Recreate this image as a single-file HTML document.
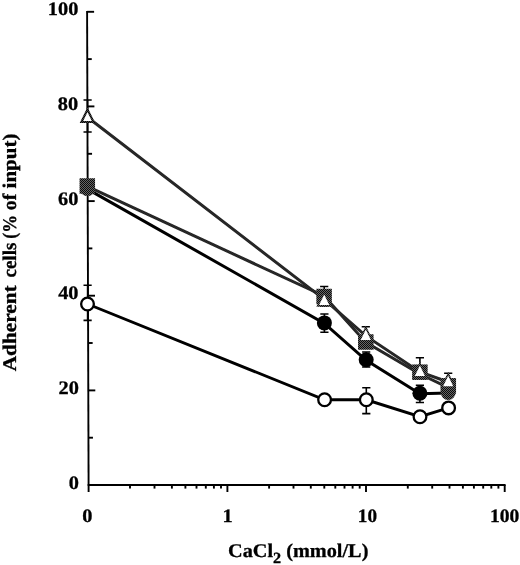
<!DOCTYPE html>
<html><head><meta charset="utf-8"><title>Figure</title>
<style>
html,body{margin:0;padding:0;background:#fff;}
svg{display:block;}
text{font-family:"Liberation Serif","Times New Roman",serif;font-weight:bold;fill:#000;stroke:#000;stroke-width:0.3px;text-rendering:geometricPrecision;}
</style></head><body>
<svg width="520" height="565" viewBox="0 0 520 565">
<defs>
<pattern id="dz" width="2" height="2" patternUnits="userSpaceOnUse">
<rect width="2" height="2" fill="#666666"/>
<rect x="0" y="0" width="1" height="1" fill="#0a0a0a"/>
<rect x="1" y="1" width="1" height="1" fill="#0a0a0a"/>
</pattern>
<pattern id="dl" width="2" height="2" patternUnits="userSpaceOnUse">
<rect width="2" height="2" fill="#484848"/>
<rect x="0" y="0" width="1" height="1" fill="#050505"/>
<rect x="1" y="1" width="1" height="1" fill="#050505"/>
</pattern>
</defs>
<rect width="520" height="565" fill="#fff"/>

<g stroke="#000" stroke-width="1.9" fill="none" stroke-linecap="butt">
<path d="M87.10 10.9 L88.60 485.0"/>
<path d="M87.65 485.0 H505.6"/>
<path d="M88.45 437.7 h4.5"/>
<path d="M88.30 390.4 h7"/>
<path d="M88.15 343.0 h4.5"/>
<path d="M88.00 295.7 h7"/>
<path d="M87.85 248.4 h4.5"/>
<path d="M87.70 201.1 h7"/>
<path d="M87.55 153.8 h4.5"/>
<path d="M87.40 106.4 h7"/>
<path d="M87.25 59.1 h4.5"/>
<path d="M87.10 11.8 h7"/>
<path d="M88.6 485.0 v7"/>
<path d="M130.0 485.0 v3.6"/>
<path d="M154.5 485.0 v3.6"/>
<path d="M171.9 485.0 v3.6"/>
<path d="M185.4 485.0 v3.6"/>
<path d="M196.5 485.0 v3.6"/>
<path d="M205.8 485.0 v3.6"/>
<path d="M213.9 485.0 v3.6"/>
<path d="M221.0 485.0 v3.6"/>
<path d="M227.4 485.0 v7"/>
<path d="M269.1 485.0 v3.6"/>
<path d="M293.5 485.0 v3.6"/>
<path d="M310.8 485.0 v3.6"/>
<path d="M324.3 485.0 v3.6"/>
<path d="M335.3 485.0 v3.6"/>
<path d="M344.5 485.0 v3.6"/>
<path d="M352.6 485.0 v3.6"/>
<path d="M359.7 485.0 v3.6"/>
<path d="M366.0 485.0 v7"/>
<path d="M407.8 485.0 v3.6"/>
<path d="M432.2 485.0 v3.6"/>
<path d="M449.5 485.0 v3.6"/>
<path d="M462.9 485.0 v3.6"/>
<path d="M473.9 485.0 v3.6"/>
<path d="M483.2 485.0 v3.6"/>
<path d="M491.3 485.0 v3.6"/>
<path d="M498.4 485.0 v3.6"/>
<path d="M504.7 485.0 v7"/>
</g>
<text transform="translate(79.0 488.6) scale(1.07 1)" font-size="19" text-anchor="end">0</text>
<text transform="translate(78.9 394.0) scale(1.07 1)" font-size="19" text-anchor="end">20</text>
<text transform="translate(78.5 299.3) scale(1.07 1)" font-size="19" text-anchor="end">40</text>
<text transform="translate(78.3 204.8) scale(1.07 1)" font-size="19" text-anchor="end">60</text>
<text transform="translate(78.2 110.1) scale(1.07 1)" font-size="19" text-anchor="end">80</text>
<text transform="translate(78.3 14.9) scale(1.07 1)" font-size="19" text-anchor="end">100</text>
<text transform="translate(87.3 521.5) scale(1.07 1)" font-size="19" text-anchor="middle">0</text>
<text transform="translate(227.6 521.5) scale(1.07 1)" font-size="19" text-anchor="middle">1</text>
<text transform="translate(367.4 521.5) scale(1.01 1)" font-size="19" text-anchor="middle">10</text>
<text transform="translate(504.6 521.5) scale(1.03 1)" font-size="19" text-anchor="middle">100</text>
<text transform="translate(298.2 557.2) scale(1.045 1)" font-size="19.4" text-anchor="middle">CaCl<tspan font-size="15.5" dy="6">2</tspan><tspan dy="-6"> (mmol/L)</tspan></text>
<text transform="translate(16.2 371.3) rotate(-90)" font-size="19.4" textLength="86.0" lengthAdjust="spacingAndGlyphs">Adherent</text>
<text transform="translate(16.2 277.5) rotate(-90)" font-size="19.4" textLength="34.8" lengthAdjust="spacingAndGlyphs">cells</text>
<text transform="translate(16.2 238.8) rotate(-90)" font-size="19.4" textLength="23.8" lengthAdjust="spacingAndGlyphs">(%</text>
<text transform="translate(16.2 210.2) rotate(-90)" font-size="19.4" textLength="16.4" lengthAdjust="spacingAndGlyphs">of</text>
<text transform="translate(16.2 188.4) rotate(-90)" font-size="19.4" textLength="54.8" lengthAdjust="spacingAndGlyphs">input)</text>
<polyline points="87.5,304 324.6,399.8 366.3,399.8 420,416.7 448.6,407.9" fill="none" stroke="#000" stroke-width="2.9"/>
<path d="M87.6 285.2 V320.4 M83.5 285.2 h8.2 M83.5 320.4 h8.2" stroke="#000" stroke-width="1.6" fill="none"/>
<path d="M366.3 387.8 V413.6 M362.2 387.8 h8.2 M362.2 413.6 h8.2" stroke="#000" stroke-width="1.6" fill="none"/>
<polyline points="87.5,188.6 324.4,322.9 366.2,359.8 419.9,393.3 448.2,392.4" fill="none" stroke="#000" stroke-width="3.0" transform="translate(0 0.5)"/>
<path d="M324.4 314 V332.3 M320.29999999999995 314 h8.2 M320.29999999999995 332.3 h8.2" stroke="#000" stroke-width="1.6" fill="none"/>
<path d="M366.2 352 V367 M362.09999999999997 352 h8.2 M362.09999999999997 367 h8.2" stroke="#000" stroke-width="1.6" fill="none"/>
<path d="M419.9 385.3 V402.5 M415.79999999999995 385.3 h8.2 M415.79999999999995 402.5 h8.2" stroke="#000" stroke-width="1.6" fill="none"/>
<polyline points="87.3,186 324.1,295.6 365.8,342 419.9,373.6 448.3,387.2" fill="none" stroke="url(#dl)" stroke-width="3.0" transform="translate(0 0.4)"/>
<polyline points="87.5,116.8 324.2,299.0 365.8,335.5 419.9,371.5 448.2,381.6" fill="none" stroke="url(#dl)" stroke-width="3.0" transform="translate(0 0.4)"/>
<path d="M87.6 100 V132 M83.5 100 h8.2 M83.5 132 h8.2" stroke="#000" stroke-width="1.6" fill="none"/>
<path d="M324.2 286.5 V306 M320.09999999999997 286.5 h8.2 M320.09999999999997 306 h8.2" stroke="#000" stroke-width="1.6" fill="none"/>
<path d="M365.8 326.8 V340 M361.7 326.8 h8.2 M361.7 340 h8.2" stroke="#000" stroke-width="1.6" fill="none"/>
<path d="M419.9 357.8 V378 M415.79999999999995 357.8 h8.2 M415.79999999999995 378 h8.2" stroke="#000" stroke-width="1.6" fill="none"/>
<path d="M448.2 373.2 V386 M444.09999999999997 373.2 h8.2 M444.09999999999997 386 h8.2" stroke="#000" stroke-width="1.6" fill="none"/>
<circle cx="87.5" cy="188.6" r="7.5" fill="url(#dz)"/>
<circle cx="324.4" cy="322.9" r="7.5" fill="#000"/>
<circle cx="366.2" cy="359.8" r="7.5" fill="#000"/>
<circle cx="419.9" cy="393.3" r="7.5" fill="#000"/>
<circle cx="448.2" cy="392.4" r="7.5" fill="url(#dz)"/>
<rect x="79.55" y="178.25" width="15.5" height="15.5" fill="url(#dz)"/>
<rect x="316.35" y="288.75" width="15.5" height="15.5" fill="url(#dz)"/>
<rect x="358.05" y="334.25" width="15.5" height="15.5" fill="url(#dz)"/>
<rect x="412.15" y="364.45" width="15.5" height="15.5" fill="url(#dz)"/>
<rect x="440.55" y="378.05" width="15.5" height="15.5" fill="url(#dz)"/>
<path d="M87.5 109.61 L93.54 122.00 H81.46 Z" fill="#fff" stroke="url(#dl)" stroke-width="2.2" stroke-linejoin="miter"/>
<path d="M324.2 292.64 L330.64 305.85 H317.76 Z" fill="#fff" stroke="url(#dz)" stroke-width="1.7" stroke-linejoin="miter"/>
<path d="M365.8 327.74 L372.24 340.95 H359.36 Z" fill="#fff" stroke="url(#dz)" stroke-width="1.7" stroke-linejoin="miter"/>
<path d="M419.9 363.74 L426.34 376.95 H413.46 Z" fill="#fff" stroke="url(#dz)" stroke-width="1.7" stroke-linejoin="miter"/>
<path d="M448.2 373.84 L454.64 387.05 H441.76 Z" fill="#fff" stroke="url(#dz)" stroke-width="1.7" stroke-linejoin="miter"/>
<circle cx="87.5" cy="304" r="6.35" fill="#fff" stroke="#000" stroke-width="2.3"/>
<circle cx="324.6" cy="399.8" r="6.35" fill="#fff" stroke="#000" stroke-width="2.3"/>
<circle cx="366.3" cy="399.8" r="6.35" fill="#fff" stroke="#000" stroke-width="2.3"/>
<circle cx="420" cy="416.7" r="6.35" fill="#fff" stroke="#000" stroke-width="2.3"/>
<circle cx="448.6" cy="407.9" r="6.35" fill="#fff" stroke="#000" stroke-width="2.3"/>
</svg></body></html>
